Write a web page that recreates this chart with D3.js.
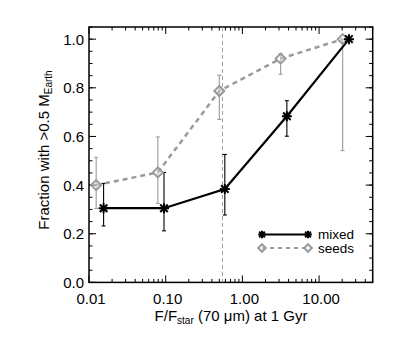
<!DOCTYPE html>
<html><head><meta charset="utf-8">
<script src="https://cdn.jsdelivr.net/npm/d3@7"></script>
<style>body{margin:0;background:#fff}svg{display:block}text{font-family:"Liberation Sans",Arial,sans-serif;fill:#000}</style>
</head><body><svg id="c" width="399" height="339"></svg>
<script>
const xMixed = [0.0155, 0.095, 0.59, 3.8, 24.5];
const yMixed = [0.305, 0.305, 0.384, 0.683, 1.0];
const mixedLo = [0.232, 0.212, 0.277, 0.601, 1.0];
const mixedHi = [0.407, 0.452, 0.526, 0.747, 1.0];
const xSeeds = [0.0124, 0.079, 0.50, 3.15, 20.3];
const ySeeds = [0.40, 0.452, 0.787, 0.92, 1.0];
const seedsLo = [0.304, 0.325, 0.67, 0.856, 0.542];
const seedsHi = [0.514, 0.598, 0.852, 0.94, 1.0];
const xTickVals = [0.01, 0.1, 1, 10];
const xTickLabels = ["0.01", "0.10", "1.00", "10.00"];
const yTickVals = [0, 0.2, 0.4, 0.6, 0.8, 1.0];
const yTickLabels = ["0.0", "0.2", "0.4", "0.6", "0.8", "1.0"];
const vLine = 0.55;
const legendNames = ["mixed", "seeds"];

const svg = d3.select("#c");
const L = 89, R = 372.7, T = 27, B = 282.4;
const x = d3.scaleLog().domain([0.01, 50]).range([L, R]);
const y = d3.scaleLinear().domain([0, 1.05]).range([B, T]);
const gray = "#9a9a9a";

const xMinor = [];
for (let e = -2; e <= 1; e++) for (let m = 2; m <= 9; m++) { const v = m * Math.pow(10, e); if (v <= 50) xMinor.push(v); }
const yMinor = d3.range(0, 1.051, 0.05);

const g = svg.append("g");
g.selectAll(".xmb").data(xMinor).join("line").attr("x1", d => x(d)).attr("x2", d => x(d)).attr("y1", B).attr("y2", B - 3.5).attr("stroke", "#000").attr("stroke-width", 1);
g.selectAll(".xmt").data(xMinor).join("line").attr("x1", d => x(d)).attr("x2", d => x(d)).attr("y1", T).attr("y2", T + 3.5).attr("stroke", "#000").attr("stroke-width", 1);
g.selectAll(".xMb").data(xTickVals).join("line").attr("x1", d => x(d)).attr("x2", d => x(d)).attr("y1", B).attr("y2", B - 7).attr("stroke", "#000").attr("stroke-width", 1);
g.selectAll(".xMt").data(xTickVals).join("line").attr("x1", d => x(d)).attr("x2", d => x(d)).attr("y1", T).attr("y2", T + 7).attr("stroke", "#000").attr("stroke-width", 1);
g.selectAll(".yml").data(yMinor).join("line").attr("y1", d => y(d)).attr("y2", d => y(d)).attr("x1", L).attr("x2", L + 3.5).attr("stroke", "#000");
g.selectAll(".ymr").data(yMinor).join("line").attr("y1", d => y(d)).attr("y2", d => y(d)).attr("x1", R).attr("x2", R - 3.5).attr("stroke", "#000");
g.selectAll(".yMl").data(yTickVals).join("line").attr("y1", d => y(d)).attr("y2", d => y(d)).attr("x1", L).attr("x2", L + 7).attr("stroke", "#000");
g.selectAll(".yMr").data(yTickVals).join("line").attr("y1", d => y(d)).attr("y2", d => y(d)).attr("x1", R).attr("x2", R - 7).attr("stroke", "#000");

svg.append("rect").attr("x", L).attr("y", T).attr("width", R - L).attr("height", B - T).attr("fill", "none").attr("stroke", "#000").attr("stroke-width", 1.5);

svg.selectAll(".xl").data(xTickVals).join("text").attr("x", d => x(d) + 2).attr("y", 304).attr("text-anchor", "middle").attr("font-size", 15).text((d, i) => xTickLabels[i]);
svg.selectAll(".yl").data(yTickVals).join("text").attr("x", L - 5).attr("y", d => y(d) + 5.5).attr("text-anchor", "end").attr("font-size", 15).text((d, i) => yTickLabels[i]);

const xt = svg.append("text").attr("x", 231).attr("y", 321).attr("text-anchor", "middle").attr("font-size", 15);
xt.append("tspan").text("F/F");
xt.append("tspan").attr("font-size", 10).attr("dy", 3).text("star");
xt.append("tspan").attr("dy", -3).text(" (70 \u03bcm) at 1 Gyr");
const yt = svg.append("text").attr("transform", "translate(49,150) rotate(-90)").attr("text-anchor", "middle").attr("font-size", 15);
yt.append("tspan").text("Fraction with >0.5 M");
yt.append("tspan").attr("font-size", 10).attr("dy", 3).text("Earth");

svg.append("line").attr("x1", x(vLine)).attr("x2", x(vLine)).attr("y1", T).attr("y2", B).attr("stroke", "#888").attr("stroke-width", 0.8).attr("stroke-dasharray", "4,3");

const clip = svg.append("g");
function errbars(xs, lo, hi, col) {
  const gg = clip.append("g").attr("stroke", col).attr("stroke-width", 1.1);
  xs.forEach((xv, i) => {
    if (lo[i] === hi[i]) return;
    gg.append("line").attr("x1", x(xv)).attr("x2", x(xv)).attr("y1", y(lo[i])).attr("y2", y(hi[i]));
    gg.append("line").attr("x1", x(xv) - 2).attr("x2", x(xv) + 2).attr("y1", y(lo[i])).attr("y2", y(lo[i]));
    gg.append("line").attr("x1", x(xv) - 2).attr("x2", x(xv) + 2).attr("y1", y(hi[i])).attr("y2", y(hi[i]));
  });
}
errbars(xSeeds, seedsLo, seedsHi, gray);
errbars(xMixed, mixedLo, mixedHi, "#000");

const line = d3.line().x(d => x(d[0])).y(d => y(d[1]));
clip.append("path").attr("d", line(xSeeds.map((v, i) => [v, ySeeds[i]]))).attr("fill", "none").attr("stroke", gray).attr("stroke-width", 2.5).attr("stroke-dasharray", "5,4");
clip.append("path").attr("d", line(xMixed.map((v, i) => [v, yMixed[i]]))).attr("fill", "none").attr("stroke", "#000").attr("stroke-width", 2.2);

function diamond(sel, cx, cy, r) {
  sel.append("path").attr("d", `M${cx},${cy - r}L${cx + r},${cy}L${cx},${cy + r}L${cx - r},${cy}Z`).attr("fill", "#fff").attr("fill-opacity", 0.3).attr("stroke", gray).attr("stroke-width", 2);
}
function star(sel, cx, cy, r) {
  const p = `M${cx - r},${cy}L${cx + r},${cy}M${cx},${cy - r}L${cx},${cy + r}` +
    `M${cx - r * 0.75},${cy - r * 0.75}L${cx + r * 0.75},${cy + r * 0.75}M${cx - r * 0.75},${cy + r * 0.75}L${cx + r * 0.75},${cy - r * 0.75}`;
  sel.append("path").attr("d", p).attr("stroke", "#000").attr("stroke-width", 2).attr("fill", "none");
}
xSeeds.forEach((v, i) => diamond(clip, x(v), y(ySeeds[i]), 5));
xMixed.forEach((v, i) => star(clip, x(v), y(yMixed[i]), 5));

const lx1 = 262, lx2 = 308, ly1 = 234.5, ly2 = 248;
svg.append("line").attr("x1", lx1).attr("x2", lx2).attr("y1", ly1).attr("y2", ly1).attr("stroke", "#000").attr("stroke-width", 2.2);
star(svg, lx1, ly1, 3.8); star(svg, lx2, ly1, 3.8);
svg.append("line").attr("x1", lx1).attr("x2", lx2).attr("y1", ly2).attr("y2", ly2).attr("stroke", gray).attr("stroke-width", 2).attr("stroke-dasharray", "4,4");
diamond(svg, lx1, ly2, 3.8); diamond(svg, lx2, ly2, 3.8);
svg.selectAll(".lg").data(legendNames).join("text").attr("x", 318).attr("y", (d, i) => (i ? ly2 : ly1) + 4.5).attr("font-size", 13.5).text(d => d);
</script></body></html>
